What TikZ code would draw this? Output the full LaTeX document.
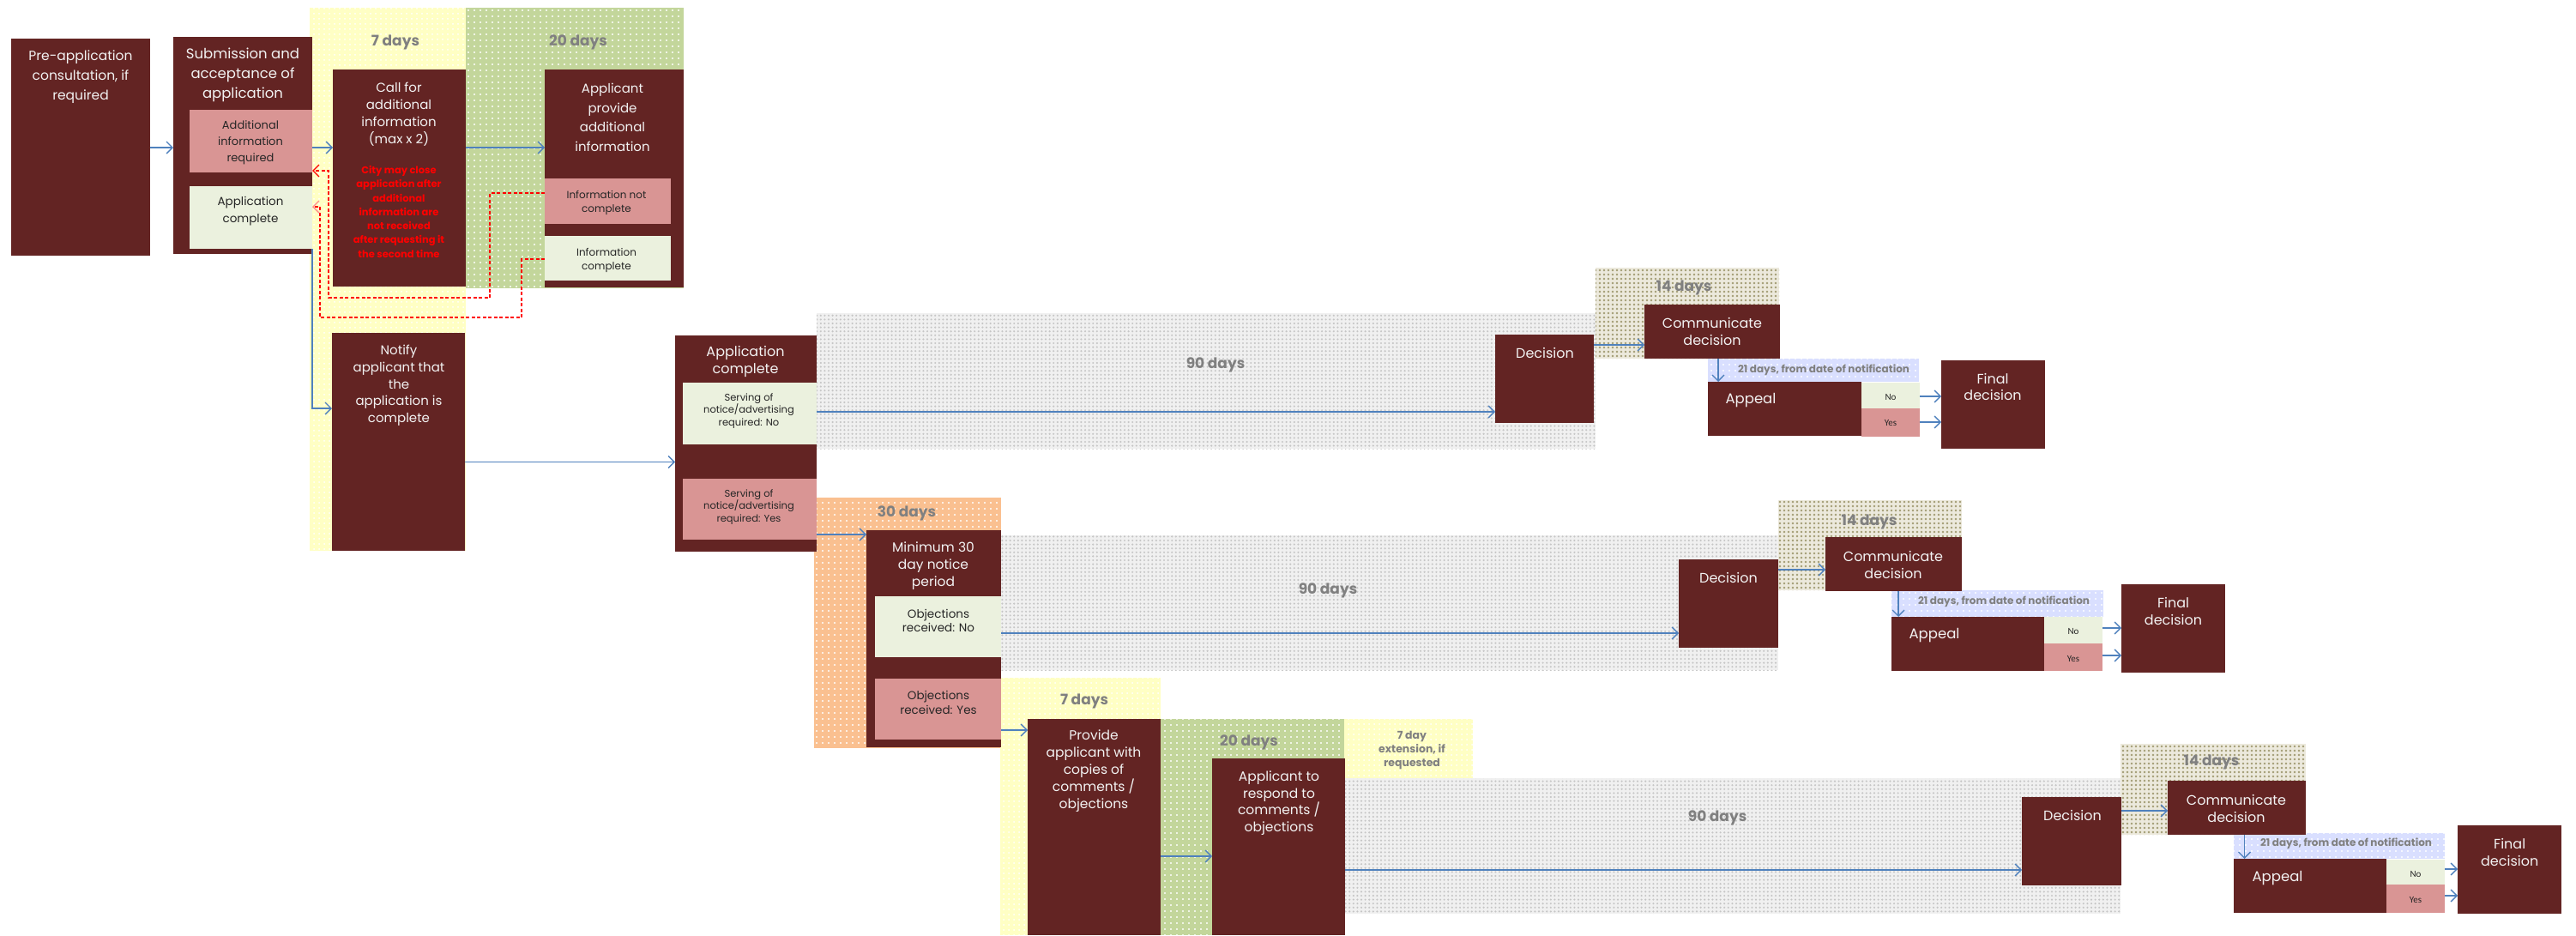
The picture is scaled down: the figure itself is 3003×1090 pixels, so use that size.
\documentclass[tikz,border=0pt]{standalone}
\usepackage{fontspec}
\setmainfont{Poppins}
\newfontfamily\ynfont{Carlito}
\usetikzlibrary{arrows.meta,patterns.meta}
\definecolor{cBox}{HTML}{632423}
\definecolor{cPink}{HTML}{D99594}
\definecolor{cLight}{HTML}{EBF1DE}
\definecolor{cWhite}{HTML}{F2F2F2}
\definecolor{cDark}{HTML}{262626}
\definecolor{cGray}{HTML}{808080}
\definecolor{cBlue}{HTML}{4F81BD}
\definecolor{cYel}{HTML}{FFFFC4}
\definecolor{cGrn}{HTML}{C3D69B}
\definecolor{cOrg}{HTML}{FAC090}
\definecolor{cBB}{HTML}{D9DFFF}
\definecolor{cGB}{HTML}{F0F0F0}
\definecolor{cGD}{HTML}{C6C6C6}
\definecolor{cOB}{HTML}{ECE9DC}
\definecolor{cOD}{HTML}{A39C74}
\newcommand\fs[2]{\fontsize{#1}{#2}\selectfont}
\newcommand\bx[6]{%
  \pgfmathsetmacro\bxw{#5-#3}\pgfmathsetmacro\bxh{#6-#4}%
  \node[#2, minimum width=\bxw pt, minimum height=\bxh pt] (#1) at ({(#3+#5)/2},{(#4+#6)/2}) {};}
\newcommand\harr[3]{\coordinate (tmpy) at (0,#3); \draw[arr] (#1.east|-tmpy) -- (#2.west|-tmpy);}
\newcommand\varr[3]{\coordinate (tmpx) at (#3,0); \draw[arr] (#1.south-|tmpx) -- (#2.north-|tmpx);}
\tikzset{
  box/.style={rectangle, fill=cBox, draw=none, inner sep=0pt, outer sep=0pt},
  pinkbox/.style={box, fill=cPink},
  greenbox/.style={box, fill=cLight},
  wt/.style={text=cWhite, align=center, inner sep=0pt},
  dt/.style={text=cDark, align=center, inner sep=0pt},
  redt/.style={text=red, align=center, inner sep=0pt, font=\bfseries\fs{11.5}{16.3}},
  bandlbl/.style={text=cGray, inner sep=0pt, font=\bfseries\fs{17}{20}},
  bandsmall/.style={text=cGray, inner sep=0pt, font=\bfseries\fs{12}{14}},
  yn/.style={text=cDark, inner sep=0pt, font=\ynfont\fs{11}{13}},
  yband/.style={fill=cYel, postaction={pattern={Dots[distance=6pt,radius=1pt]}, pattern color=white}},
  gband/.style={fill=cGrn, postaction={pattern={Dots[distance=7pt,radius=1.2pt]}, pattern color=white}},
  orband/.style={fill=cOrg, postaction={pattern={Dots[distance=7pt,radius=1.2pt]}, pattern color=white}},
  bband/.style={fill=cBB, postaction={pattern={Dots[distance=7pt,radius=1.2pt]}, pattern color=white}},
  grayband/.style={fill=cGB, postaction={pattern={Dots[distance=4.6pt,radius=1.2pt]}, pattern color=cGD}},
  oband/.style={fill=cOB, postaction={pattern={Dots[distance=5pt,radius=1.3pt]}, pattern color=cOD}},
  arr/.style={draw=cBlue, line width=1.3pt, -{Straight Barb[length=7pt,width=14pt]}},
  rdash/.style={draw=red, line width=1.4pt, dash pattern=on 4pt off 2.5pt, -{Straight Barb[length=7pt,width=14pt]}},
  rdashb/.style={draw=red, line width=1.4pt, dash pattern=on 4pt off 2.5pt, -{Straight Barb[length=7pt,width=14pt,color=red!45]}},
}
\begin{document}
\begin{tikzpicture}[x=1pt,y=-1pt]
\useasboundingbox (0,0) rectangle (3003,1090);
\fill[white] (0,0) rectangle (3003,1090);
% ---------- bands ----------
\fill[yband] (361,9) rectangle (543,642);
\fill[gband] (543,9) rectangle (797,336);
\fill[grayband] (952,365) rectangle (1860,523);
\fill[oband] (1860,312) rectangle (2074,418);
\fill[bband] (1991,418) rectangle (2237,445);
\fill[orband] (949,580) rectangle (1167,872);
\fill[grayband] (1167,624) rectangle (2073,781);
\fill[oband] (2073,583) rectangle (2287,688);
\fill[bband] (2205,688) rectangle (2452,719);
\fill[yband] (1166,790) rectangle (1353,1090);
\fill[gband] (1353,838) rectangle (1567,1090);
\fill[yband] (1567,838) rectangle (1717,907);
\fill[grayband] (1567,907) rectangle (2472,1065);
\fill[oband] (2472,867) rectangle (2688,973);
\fill[bband] (2604,971) rectangle (2850,1001);
\node[bandlbl] (l7a) at (461,49) {7 days};
\node[bandlbl] (l20a) at (674,49) {20 days};
\node[bandlbl] (l90a) at (1417,425) {90 days};
\node[bandlbl] (l14a) at (1963,335) {14 days};
\node[bandsmall] (l21a) at (2126,431.7) {21 days, from date of notification};
\node[bandlbl] (l30) at (1057,598) {30 days};
\node[bandlbl] (l90b) at (1548,688) {90 days};
\node[bandlbl] (l14b) at (2179,608) {14 days};
\node[bandsmall] (l21b) at (2336,701) {21 days, from date of notification};
\node[bandlbl] (l7b) at (1264,817) {7 days};
\node[bandlbl] (l20b) at (1456,865) {20 days};
\node[text=cGray, align=center, inner sep=0pt, font=\bfseries\fs{12.5}{16}] (lext) at (1646,875) {7 day\\extension, if\\requested};
\node[bandlbl] (l90c) at (2002,953) {90 days};
\node[bandlbl] (l14c) at (2578,888) {14 days};
\node[bandsmall] (l21c) at (2735,983) {21 days, from date of notification};
% ---------- top row ----------
\bx{pre}{box}{13}{45}{175}{298}
\node[wt,font=\fs{15.5}{23}] (pre-t) at (94,89.5) {Pre-application\\consultation, if\\required};
\bx{sub}{box}{202}{43}{364}{296}
\node[wt,font=\fs{16.5}{23}] (sub-t) at (283,87.5) {Submission and\\acceptance of\\application};
\bx{subadd}{pinkbox}{221}{128}{364}{201}
\node[dt,font=\fs{13}{19}] (subadd-t) at (292,166) {Additional\\information\\required};
\bx{subcomp}{greenbox}{221}{217}{364}{290}
\node[dt,font=\fs{13.5}{19.5}] (subcomp-t) at (292,246) {Application\\complete};
\bx{call}{box}{388}{81}{543}{334}
\node[wt,font=\fs{15}{19.8}] (call-t) at (465,133.3) {Call for\\additional\\information\\(max x 2)};
\node[redt] (call-r) at (465,246.8) {City may close\\application after\\additional\\information are\\not received\\after requesting it\\the second time};
\bx{appl}{box}{635}{81}{797}{335}
\node[wt,font=\fs{15}{22.7}] (appl-t) at (714,137) {Applicant\\provide\\additional\\information};
\bx{infonc}{pinkbox}{635}{208}{782}{261}
\node[dt,font=\fs{12}{16}] (infonc-t) at (707,236.5) {Information not\\complete};
\bx{infoc}{greenbox}{635}{275}{782}{327}
\node[dt,font=\fs{12}{16}] (infoc-t) at (707,303) {Information\\complete};
\bx{notify}{box}{387}{388}{542}{642}
\node[wt,font=\fs{15}{19.7}] (notify-t) at (465,449.5) {Notify\\applicant that\\the\\application is\\complete};
\bx{appc}{box}{787}{391}{952}{643}
\node[wt,font=\fs{16}{20}] (appc-t) at (869,421.7) {Application\\complete};
\bx{serveno}{greenbox}{796}{446}{952}{518}
\node[dt,font=\fs{11.5}{14.7}] (serveno-t) at (873,479) {Serving of\\notice/advertising\\required: No};
\bx{serveyes}{pinkbox}{796}{558}{952}{629}
\node[dt,font=\fs{11.5}{14.7}] (serveyes-t) at (873,591) {Serving of\\notice/advertising\\required: Yes};
% ---------- row 1 decision ----------
\bx{dec1}{box}{1743}{390}{1858}{493}
\node[wt,font=\fs{16}{20}] (dec1-t) at (1801,411.7) {Decision};
\bx{comm1}{box}{1917}{355}{2075}{418}
\node[wt,font=\fs{16}{20}] (comm1-t) at (1996,386.7) {Communicate\\decision};
\bx{appeal1}{box}{1991}{445}{2170}{508}
\node[wt,font=\fs{16.5}{20}] (appeal1-t) at (2041,466.7) {Appeal};
\bx{no1}{greenbox}{2170}{446}{2238}{476}
\node[yn] (no1-t) at (2204,463) {No};
\bx{yes1}{pinkbox}{2170}{476}{2238}{509}
\node[yn] (yes1-t) at (2204,492.7) {Yes};
\bx{final1}{box}{2263}{420}{2384}{523}
\node[wt,font=\fs{16}{19.7}] (final1-t) at (2323,451) {Final\\decision};
% ---------- row 2 ----------
\bx{min30}{box}{1010}{618}{1167}{871}
\node[wt,font=\fs{15.5}{20}] (min30-t) at (1088,659.7) {Minimum 30\\day notice\\period};
\bx{objno}{greenbox}{1020}{695}{1167}{766}
\node[dt,font=\fs{13.5}{16.5}] (objno-t) at (1094,723.5) {Objections\\received: No};
\bx{objyes}{pinkbox}{1020}{791}{1167}{862}
\node[dt,font=\fs{13.5}{16.5}] (objyes-t) at (1094,819) {Objections\\received: Yes};
\bx{dec2}{box}{1957}{652}{2073}{755}
\node[wt,font=\fs{16}{20}] (dec2-t) at (2015,673.7) {Decision};
\bx{comm2}{box}{2128}{626}{2287}{689}
\node[wt,font=\fs{16}{20}] (comm2-t) at (2207,658) {Communicate\\decision};
\bx{appeal2}{box}{2205}{719}{2383}{782}
\node[wt,font=\fs{16.5}{20}] (appeal2-t) at (2255,740.7) {Appeal};
\bx{no2}{greenbox}{2383}{719}{2451}{750}
\node[yn] (no2-t) at (2417,736) {No};
\bx{yes2}{pinkbox}{2383}{750}{2451}{782}
\node[yn] (yes2-t) at (2417,768) {Yes};
\bx{final2}{box}{2473}{681}{2594}{784}
\node[wt,font=\fs{16}{19.7}] (final2-t) at (2533.5,712.7) {Final\\decision};
% ---------- row 3 ----------
\bx{provide}{box}{1198}{838}{1353}{1090}
\node[wt,font=\fs{15.5}{20}] (provide-t) at (1275,899) {Provide\\applicant with\\copies of\\comments /\\objections};
\bx{respond}{box}{1413}{884}{1568}{1090}
\node[wt,font=\fs{15.5}{19.7}] (respond-t) at (1491,936.2) {Applicant to\\respond to\\comments /\\objections};
\bx{dec3}{box}{2357}{929}{2473}{1032}
\node[wt,font=\fs{16}{20}] (dec3-t) at (2416,950.7) {Decision};
\bx{comm3}{box}{2527}{910}{2688}{973}
\node[wt,font=\fs{16}{20}] (comm3-t) at (2607,942) {Communicate\\decision};
\bx{appeal3}{box}{2604}{1001}{2782}{1064}
\node[wt,font=\fs{16.5}{20}] (appeal3-t) at (2655,1023.3) {Appeal};
\bx{no3}{greenbox}{2782}{1002}{2850}{1031}
\node[yn] (no3-t) at (2816,1019.3) {No};
\bx{yes3}{pinkbox}{2782}{1031}{2850}{1064}
\node[yn] (yes3-t) at (2816,1049.3) {Yes};
\bx{final3}{box}{2865}{962}{2986}{1065}
\node[wt,font=\fs{16}{19.7}] (final3-t) at (2925.7,993.7) {Final\\decision};
% ---------- connectors ----------
\harr{pre}{sub}{172}
\harr{sub}{call}{172}
\harr{call}{appl}{172}
\coordinate (yN) at (0,476);
\draw[arr] (subcomp.south east) -- (subcomp.south east|-yN) -- (notify.west|-yN);
\harr{notify}{appc}{538.5}
\harr{serveno}{dec1}{480}
\harr{serveyes}{min30}{623}
\harr{dec1}{comm1}{402}
\varr{comm1}{appeal1}{2003}
\harr{no1}{final1}{462}
\harr{yes1}{final1}{492}
\harr{objno}{dec2}{738}
\harr{objyes}{provide}{851}
\harr{dec2}{comm2}{664}
\varr{comm2}{appeal2}{2213}
\harr{no2}{final2}{732}
\harr{yes2}{final2}{764}
\harr{provide}{respond}{998}
\harr{respond}{dec3}{1014}
\harr{dec3}{comm3}{945}
\varr{comm3}{appeal3}{2616.5}
\harr{no3}{final3}{1013}
\harr{yes3}{final3}{1044}
\coordinate (r1a) at (571,225);
\coordinate (r1b) at (571,347);
\coordinate (r1c) at (383,347);
\coordinate (r1d) at (383,199);
\draw[rdash] (infonc.west|-r1a) -- (r1a) -- (r1b) -- (r1c) -- (r1d) -- (subadd.east|-r1d);
\coordinate (r2a) at (608,302);
\coordinate (r2b) at (608,370);
\coordinate (r2c) at (373,370);
\coordinate (r2d) at (373,241);
\draw[rdashb] (infoc.west|-r2a) -- (r2a) -- (r2b) -- (r2c) -- (r2d) -- (subcomp.east|-r2d);
\end{tikzpicture}
\end{document}
